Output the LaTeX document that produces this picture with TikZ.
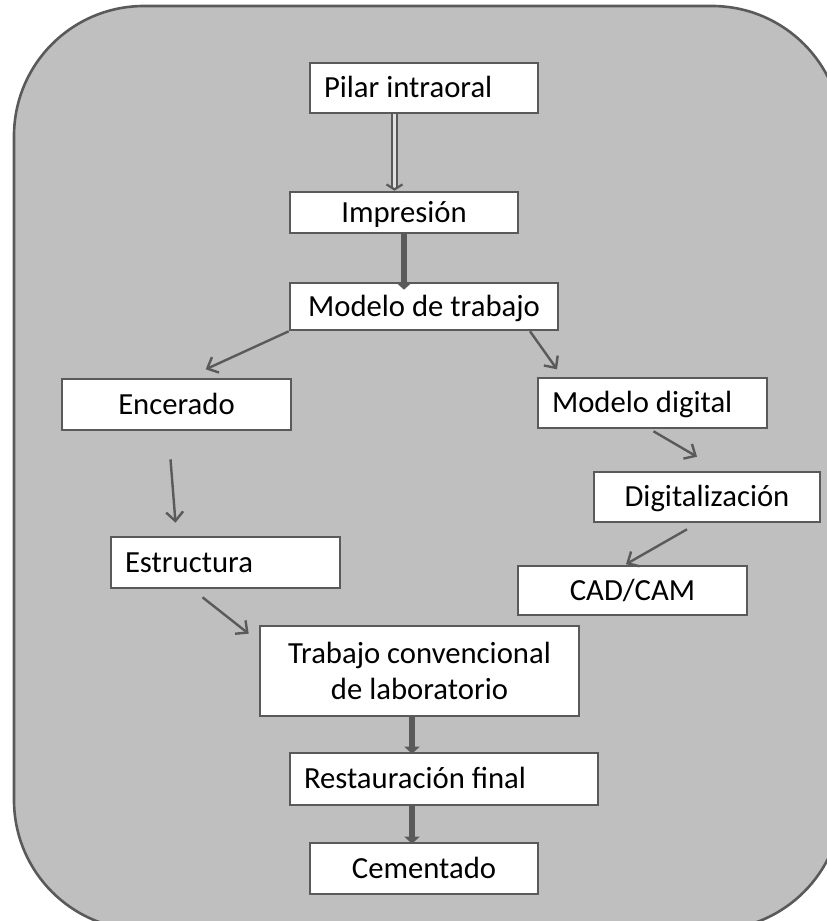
\documentclass[tikz,border=0pt]{standalone}
\usepackage{fontspec}
\setmainfont{Carlito}
\usetikzlibrary{arrows.meta,calc}
\definecolor{panel}{RGB}{191,191,191}
\definecolor{edge}{RGB}{90,90,90}
% left-aligned caption of fixed width inside a box
\newcommand{\lcell}[2]{\makebox[#1][l]{#2}}
\tikzset{
  stepbox/.style={draw=edge, fill=white, line width=2.6pt, inner sep=0pt,
    font=\fontsize{30.7}{36}\selectfont, text=black, align=center,
    text height=22pt, text depth=3pt},
  thin arrow/.style={draw=edge, line width=2.4pt,
    -{Straight Barb[length=9pt,width=17pt]}},
  thick arrow/.style={draw=edge, line width=6pt,
    -{Triangle[length=7pt,width=15pt]}},
  twin arrow/.style={draw=edge, line width=2.2pt, double=white!88!black,
    double distance=3pt, -{Straight Barb[length=5pt,width=16pt]}},
}
\begin{document}
\begin{tikzpicture}[x=1pt,y=-1pt]
  \clip (0,0) rectangle (827,921);
  \useasboundingbox (0,0) rectangle (827,921);
  % rounded background panel, running off the right and bottom edges
  \draw[draw=edge, fill=panel, line width=2.6pt, rounded corners=130pt]
    (14,6) rectangle (842,930);

  % process steps
  \node[stepbox, minimum width=228pt, minimum height=50pt] (pil) at (424,88) {\lcell{200pt}{Pilar intraoral}};
  \node[stepbox, minimum width=228pt, minimum height=41pt] (imp) at (404,212.5) {Impresión};
  \node[stepbox, minimum width=268pt, minimum height=47pt] (mod) at (424,306.5) {Modelo de trabajo};
  \node[stepbox, minimum width=229pt, minimum height=51pt] (enc) at (176.5,404.5) {Encerado};
  \node[stepbox, minimum width=229pt, minimum height=51pt] (est) at (225.5,562.5) {\lcell{201pt}{Estructura}};
  \node[stepbox, minimum width=229pt, minimum height=50pt] (mdi) at (652.5,403) {\lcell{201pt}{Modelo digital}};
  \node[stepbox, minimum width=226pt, minimum height=50pt] (dig) at (707,497) {Digitalización};
  \node[stepbox, minimum width=229pt, minimum height=49pt] (cad) at (632.5,590.5) {CAD/CAM};
  \node[stepbox, minimum width=319pt, minimum height=90pt, text height=, text depth=] (tra) at (419.5,671) {Trabajo convencional\\de laboratorio};
  \node[stepbox, minimum width=308pt, minimum height=52pt] (res) at (444,779) {\lcell{280pt}{Restauración final}};
  \node[stepbox, minimum width=228pt, minimum height=51pt] (cem) at (424,868.5) {Cementado};

  % connectors
  \draw[twin arrow] ([xshift=-29.5pt]pil.south) -- ([xshift=-29.5pt]pil.south |- imp.north);
  \draw[thick arrow] (imp.south) -- ([yshift=-8pt]imp.south |- mod.north);
  \draw[thin arrow] (mod.south west) -- ($(mod.south west)+(-83,38)$);
  \draw[thin arrow] ([xshift=106pt]mod.south) -- ($(mod.south)+(133,38)$);
  \draw[thin arrow] ($(enc.south)+(-6,28)$) -- ($(est.north)+(-50,-13)$);
  \draw[thin arrow] ($(est.south)+(-23,8)$) -- ($(tra.north west)+(-10,9)$);
  \draw[thin arrow] ($(mdi.south)+(1,2)$) -- ($(dig.north)+(-10,-14)$);
  \draw[thin arrow] ($(dig.south)+(-20,6)$) -- ($(cad.north)+(-6.5,-0.5)$);
  \draw[thick arrow] ([xshift=-7.5pt]tra.south) -- ([xshift=-7.5pt,yshift=-2pt]tra.south |- res.north);
  \draw[thick arrow] ([xshift=-32pt]res.south) -- ([xshift=-32pt,yshift=-2pt]res.south |- cem.north);
\end{tikzpicture}
\end{document}
